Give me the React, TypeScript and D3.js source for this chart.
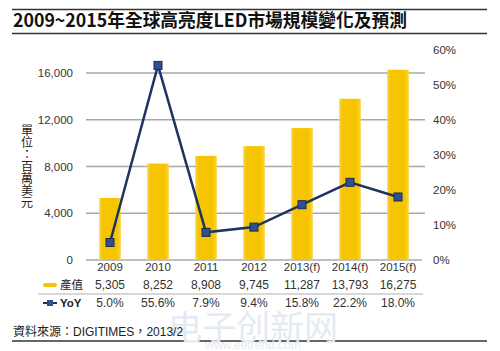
import React from 'react';
import * as d3 from 'd3';

const years = ['2009', '2010', '2011', '2012', '2013(f)', '2014(f)', '2015(f)'];
const output = [5305, 8252, 8908, 9745, 11287, 13793, 16275];
const yoy = [5.0, 55.6, 7.9, 9.4, 15.8, 22.2, 18.0];
const leftTicks = [0, 4000, 8000, 12000, 16000];
const rightTicks = [0, 10, 20, 30, 40, 50, 60];
const yTitle = ['單', '位', '：', '百', '萬', '美', '元'];

const latin = '"Liberation Sans", Arial, sans-serif';
const cjk = '"Noto Sans CJK TC", "Noto Sans CJK SC", sans-serif';

export default function App() {
  const x = d3.scaleBand<string>().domain(years).range([86, 422]).paddingInner(0.55).paddingOuter(0.275);
  const yL = d3.scaleLinear().domain([0, 16000]).range([260, 73]);
  const yR = d3.scaleLinear().domain([0, 60]).range([260, 50]);
  const fmt = d3.format(',');
  const cx = (d: string) => (x(d) ?? 0) + x.bandwidth() / 2;

  const line = d3.line<number>()
    .x((_, i) => cx(years[i]))
    .y(d => yR(d));

  return (
    <svg width={500} height={351} style={{ position: 'absolute', left: 0, top: 0, background: '#fff' }}>
      <defs>
        <linearGradient id="barGrad" x1="0" x2="1" y1="0" y2="0">
          <stop offset="0%" stopColor="#f8d644" />
          <stop offset="18%" stopColor="#f7c400" />
          <stop offset="82%" stopColor="#f7c400" />
          <stop offset="100%" stopColor="#f8d644" />
        </linearGradient>
      </defs>

      {/* frame rules */}
      <line x1={12} x2={487} y1={9.5} y2={9.5} stroke="#333" strokeWidth={1.5} />
      <line x1={12} x2={487} y1={33.5} y2={33.5} stroke="#333" strokeWidth={1.5} />
      <line x1={12} x2={487} y1={341} y2={341} stroke="#333" strokeWidth={1.5} />

      <text x={13} y={27} fontFamily={cjk} fontWeight="bold" fontSize={18} fill="#111" textLength={394} lengthAdjust="spacingAndGlyphs">
        2009~2015年全球高亮度LED市場規模變化及預測
      </text>

      {/* watermark */}
      <text x={253} y={340} textAnchor="middle" fontFamily={cjk} fontSize={34} fill="#e4eaf1">电子创新网</text>
      <text x={253} y={349} textAnchor="middle" fontFamily={latin} fontSize={12} fill="#e4eaf1">www.eetrend.com</text>

      {/* gridlines */}
      {leftTicks.map(t => (
        <line key={t} x1={86} x2={t === 0 ? 422 : 425} y1={yL(t)} y2={yL(t)} stroke="#a8a8a8" strokeWidth={1.5} />
      ))}

      {/* left axis */}
      {leftTicks.map(t => (
        <text key={t} x={73} y={yL(t) + 4} textAnchor="end" fontFamily={latin} fontSize={11.5} fill="#333">{fmt(t)}</text>
      ))}
      {yTitle.map((c, i) => (
        <text key={i} x={27} y={135 + i * 12} textAnchor="middle" fontFamily={cjk} fontSize={12} fill="#222">{c}</text>
      ))}

      {/* right axis */}
      {rightTicks.map(t => (
        <text key={t} x={433} y={yR(t) + 4} fontFamily={latin} fontSize={11.5} fill="#333">{t}%</text>
      ))}

      {/* bars */}
      {years.map((yr, i) => (
        <rect key={yr} x={x(yr)} y={yL(output[i])} width={x.bandwidth()} height={yL(0) - yL(output[i])} fill="url(#barGrad)" />
      ))}

      {/* yoy line */}
      <path d={line(yoy) ?? ''} fill="none" stroke="#1e3360" strokeWidth={2.5} />
      {yoy.map((v, i) => (
        <rect key={i} x={cx(years[i]) - 4} y={yR(v) - 4} width={8} height={8} fill="#2d5190" stroke="#1a2b55" strokeWidth={1} />
      ))}

      {/* data table */}
      {years.map(yr => (
        <text key={yr} x={cx(yr)} y={271} textAnchor="middle" fontFamily={latin} fontSize={11.5} fill="#333">{yr}</text>
      ))}
      {output.map((v, i) => (
        <text key={i} x={cx(years[i])} y={289} textAnchor="middle" fontFamily={latin} fontSize={12} fill="#333">{fmt(v)}</text>
      ))}
      <line x1={38} x2={423} y1={294} y2={294} stroke="#b0b0b0" strokeWidth={1} />
      {yoy.map((v, i) => (
        <text key={i} x={cx(years[i])} y={307} textAnchor="middle" fontFamily={latin} fontSize={12} fill="#333">{v.toFixed(1)}%</text>
      ))}

      {/* legend */}
      <rect x={43} y={283} width={14} height={4} rx={2} fill="#f7c400" />
      <text x={60} y={289} fontFamily={cjk} fontSize={11.5} fill="#222" textLength={23}>產值</text>
      <line x1={43} x2={57} y1={303} y2={303} stroke="#1e3360" strokeWidth={2} />
      <rect x={47} y={300} width={6} height={6} fill="#2d5190" />
      <text x={60} y={307} fontFamily={latin} fontWeight="bold" fontSize={11.5} fill="#222">YoY</text>

      {/* source */}
      <text x={13} y={336} fontFamily={cjk} fontSize={12} fill="#222">
        資料來源：<tspan fontFamily={latin}>DIGITIMES</tspan>，<tspan fontFamily={latin}>2013/2</tspan>
      </text>
    </svg>
  );
}
